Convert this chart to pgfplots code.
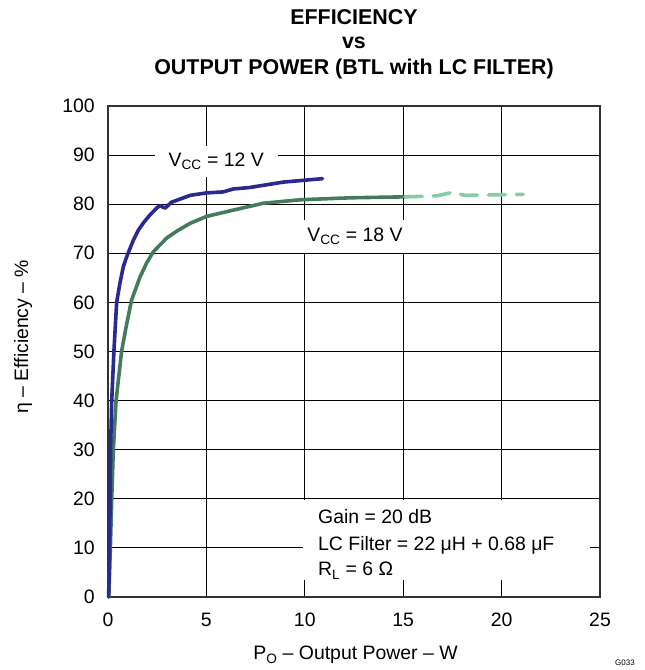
\documentclass[border=0pt]{standalone}
\usepackage{fontspec}
\setmainfont{Liberation Sans}
\usepackage{pgfplots}
\pgfplotsset{compat=1.18}
\definecolor{vblue}{RGB}{40,42,145}
\definecolor{vgreen}{RGB}{68,122,94}
\definecolor{vlight}{RGB}{132,206,160}
\definecolor{frame}{RGB}{50,50,50}
\begin{document}
\fontsize{19.5}{24}\selectfont
\begin{tikzpicture}
\path[use as bounding box] (-108bp,-73bp) rectangle (537bp,597bp);
\begin{axis}[name=ax, at={(0,0)}, anchor=south west, scale only axis,
  width=492bp, height=491bp,
  xmin=0, xmax=25, ymin=0, ymax=100,
  xtick={0,5,...,25}, ytick={0,10,...,100},
  grid=major, major grid style={black, line width=0.9bp},
  axis line style={line width=2.5bp, draw=frame},
  major tick length=0pt, clip=false,
  /pgf/number format/assume math mode=true,
  xticklabel style={anchor=north, inner sep=0pt, yshift=-16bp},
  yticklabel style={anchor=east, inner sep=0pt, xshift=-13bp},
  xlabel={P\textsubscript{O} – Output Power – W},
  ylabel={η – Efficiency – \%},
  xlabel style={at={(axis description cs:0.503,-0.1283)}, anchor=base},
  ylabel style={at={(axis description cs:-0.1626,0.53)}, anchor=base},
]
% VCC = 18 V (solid part)
\addplot[vgreen, line width=3.6bp, line join=round, line cap=round] coordinates {
(0.04,0) (0.08,5) (0.12,10) (0.19,20) (0.27,30) (0.41,40) (0.69,50)
(0.92,55) (1.2,60.5) (1.63,65.2) (1.96,68) (2.3,70.3) (2.64,71.7) (2.98,73.1)
(3.49,74.5) (4.17,76.1) (5.0,77.5) (6.37,78.8) (7.9,80.2) (9.76,80.9)
(12.3,81.3) (15.1,81.5)
};
% VCC = 18 V (dashed part)
\addplot[vlight, line width=3.6bp, line join=round, line cap=round,
  dash pattern=on 17bp off 11bp] coordinates {
(15.1,81.5) (16.0,81.6) (16.7,81.7) (17.5,82.4) (17.9,82.0) (18.2,81.8)
(19.5,81.9) (21.1,82.0)
};
% VCC = 12 V
\addplot[vblue, line width=3.6bp, line join=round, line cap=round] coordinates {
(0.03,0) (0.05,3) (0.08,10) (0.11,20) (0.13,30) (0.19,40) (0.3,50)
(0.44,60) (0.61,64) (0.78,67.3) (0.95,69.3) (1.29,72.7) (1.54,74.7)
(1.8,76.2) (2.13,77.8) (2.47,79.2) (2.64,79.7) (2.9,79.2) (3.23,80.4)
(4.17,81.8) (5.0,82.3) (5.85,82.5) (6.37,83.1) (7.2,83.4) (8.9,84.5)
(10.9,85.2)
};
\node[fill=white, inner xsep=14bp, inner ysep=7bp, anchor=base]
  at (axis cs:5.5,87.6) {V\textsubscript{CC} = 12 V};
\node[fill=white, inner xsep=4bp, inner ysep=8bp, anchor=base]
  at (axis cs:12.55,72.4) {V\textsubscript{CC} = 18 V};
\node[fill=white, minimum width=287bp, minimum height=80bp, anchor=north west, inner sep=0pt]
  at (axis cs:9.91,19.75) {};
\node[anchor=base west, inner sep=0pt] at (axis cs:10.67,15.07) {Gain = 20 dB};
\node[anchor=base west, inner sep=0pt] at (axis cs:10.67,9.57) {LC Filter = 22 μH + 0.68 μF};
\node[anchor=base west, inner sep=0pt] at (axis cs:10.67,4.28) {R\textsubscript{L} = 6 Ω};
\end{axis}
\begin{scope}[every node/.style={font=\bfseries\fontsize{21.5}{25}\selectfont, anchor=base}]
\node at ([yshift=81bp]ax.north) {EFFICIENCY};
\node at ([yshift=57bp]ax.north) {vs};
\node at ([yshift=31bp]ax.north) {OUTPUT POWER (BTL with LC FILTER)};
\end{scope}
\node[anchor=north west, inner sep=0pt, font=\fontsize{8}{10}\selectfont] at (507bp,-63bp) {G033};
\end{tikzpicture}
\end{document}
